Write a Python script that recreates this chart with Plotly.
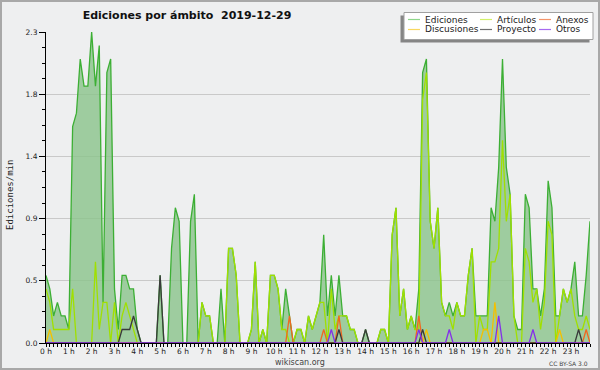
import plotly.graph_objects as go

# ---------------- data (10-minute bins, edits per minute) ----------------
bin_minutes = 10
n_bins = 144

ediciones = [
    0.5, 0.4, 0.2, 0.3, 0.2, 0.2,   # 0 h
    0.1, 1.6, 1.7, 2.1, 1.9, 1.9,   # 1 h
    2.3, 1.9, 2.2, 0.3, 2.0, 2.1,   # 2 h
    0.4, 0.1, 0.5, 0.5, 0.4, 0.4,   # 3 h
    0.1, 0.0, 0.0, 0.0, 0.0, 0.0,   # 4 h
    0.5, 0.0, 0.0, 0.7, 1.0, 0.9,   # 5 h
    0.0, 0.0, 0.9, 1.1, 0.0, 0.3,   # 6 h
    0.2, 0.2, 0.0, 0.0, 0.4, 0.0,   # 7 h
    0.7, 0.7, 0.5, 0.0, 0.0, 0.0,   # 8 h
    0.1, 0.6, 0.0, 0.1, 0.0, 0.5,   # 9 h
    0.5, 0.4, 0.1, 0.4, 0.2, 0.0,   # 10 h
    0.1, 0.1, 0.0, 0.2, 0.1, 0.2,   # 11 h
    0.3, 0.8, 0.2, 0.5, 0.2, 0.5,   # 12 h
    0.2, 0.2, 0.1, 0.1, 0.0, 0.0,   # 13 h
    0.1, 0.0, 0.0, 0.0, 0.1, 0.1,   # 14 h
    0.0, 0.8, 1.0, 0.2, 0.4, 0.1,   # 15 h
    0.2, 0.1, 0.4, 2.0, 2.1, 0.9,   # 16 h
    0.7, 1.0, 0.3, 0.2, 0.3, 0.2,   # 17 h
    0.3, 0.2, 0.2, 0.5, 0.7, 0.2,   # 18 h
    0.2, 0.2, 0.2, 1.0, 0.9, 1.3,   # 19 h
    2.1, 1.3, 1.1, 0.2, 0.1, 0.1,   # 20 h
    1.1, 1.0, 0.4, 0.4, 0.2, 0.4,   # 21 h
    1.2, 1.0, 0.2, 0.2, 0.4, 0.3,   # 22 h
    0.4, 0.6, 0.2, 0.2, 0.5, 0.9,   # 23 h
]

articulos = [
    0.4, 0.3, 0.1, 0.1, 0.1, 0.1,
    0.1, 0.4, 0.0, 0.0, 0.0, 0.0,
    0.0, 0.6, 0.1, 0.3, 0.3, 0.0,
    0.3, 0.0, 0.2, 0.3, 0.2, 0.1,
    0.0, 0.0, 0.0, 0.0, 0.0, 0.0,
    0.0, 0.0, 0.0, 0.0, 0.0, 0.0,
    0.0, 0.0, 0.0, 0.0, 0.0, 0.3,
    0.2, 0.2, 0.0, 0.0, 0.0, 0.0,
    0.7, 0.7, 0.5, 0.0, 0.0, 0.0,
    0.1, 0.6, 0.0, 0.1, 0.0, 0.5,
    0.5, 0.4, 0.1, 0.1, 0.0, 0.0,
    0.1, 0.1, 0.0, 0.2, 0.1, 0.2,
    0.3, 0.3, 0.0, 0.4, 0.1, 0.2,
    0.2, 0.2, 0.1, 0.1, 0.0, 0.0,
    0.0, 0.0, 0.0, 0.0, 0.1, 0.1,
    0.0, 0.8, 1.0, 0.2, 0.4, 0.1,
    0.2, 0.1, 0.1, 1.8, 2.0, 0.9,
    0.7, 1.0, 0.3, 0.2, 0.2, 0.1,
    0.3, 0.2, 0.2, 0.5, 0.7, 0.0,
    0.2, 0.1, 0.1, 0.6, 0.6, 0.7,
    1.5, 0.9, 1.1, 0.2, 0.0, 0.0,
    0.7, 0.6, 0.3, 0.4, 0.1, 0.3,
    0.9, 0.8, 0.0, 0.2, 0.4, 0.3,
    0.4, 0.2, 0.1, 0.1, 0.2, 0.1,
]

# sparse series: {bin index: edits per minute}
discusiones_bins = {1: 0.1, 100: 0.1, 115: 0.1, 116: 0.1, 118: 0.3, 135: 0.1}
anexos_bins = {64: 0.2, 73: 0.1, 77: 0.2, 98: 0.2, 142: 0.1}
proyecto_bins = {20: 0.1, 21: 0.1, 22: 0.1, 23: 0.2, 24: 0.1, 30: 0.5,
                 77: 0.1, 84: 0.1, 99: 0.1, 140: 0.1}
otros_bins = {75: 0.1, 98: 0.1, 106: 0.1, 119: 0.2, 128: 0.1}

y_tick_values = [0, 0.46, 0.92, 1.38, 1.84, 2.3]
y_tick_labels = ["0.0", "0.5", "0.9", "1.4", "1.8", "2.3"]
x_tick_hours = list(range(24))
x_tick_labels = [f"{h} h" for h in x_tick_hours]

title_text = "Ediciones por ámbito\u00a0\u00a02019-12-29"
y_title = "Ediciones/min"
legend_rows = [["Ediciones", "Artículos", "Anexos"],
               ["Discusiones", "Proyecto", "Otros"]]


def expand(sparse):
    return [sparse.get(i, 0.0) for i in range(n_bins)]


hours = [i * bin_minutes / 60 for i in range(n_bins)]

series = {
    "Ediciones": ediciones,
    "Artículos": articulos,
    "Discusiones": expand(discusiones_bins),
    "Anexos": expand(anexos_bins),
    "Proyecto": expand(proyecto_bins),
    "Otros": expand(otros_bins),
}

colors = {
    "Ediciones": "#3caf34",
    "Artículos": "#a0e000",
    "Discusiones": "#f4c000",
    "Anexos": "#f06820",
    "Proyecto": "#3a3a3a",
    "Otros": "#8430e8",
}
legend_colors = {
    "Ediciones": "#8fd68a",
    "Artículos": "#d2f06a",
    "Discusiones": "#f8d860",
    "Anexos": "#f4946a",
    "Proyecto": "#707070",
    "Otros": "#a76af0",
}

# ---------------- layout geometry ----------------
W, H = 600, 370
ML, MR, MT, MB = 46, 10, 32, 27
PW, PH = W - ML - MR, H - MT - MB
BG = "#eeeff0"


def px(x):
    return (x - ML) / PW


def py(y):
    return 1 - (y - MT) / PH


fig = go.Figure()

draw_order = ["Ediciones", "Artículos", "Discusiones", "Anexos", "Proyecto", "Otros"]
for name in draw_order:
    kw = {}
    if name == "Ediciones":
        kw = dict(fill="tozeroy", fillcolor="rgba(140,196,140,0.82)")
    fig.add_trace(go.Scatter(
        x=hours, y=series[name], name=name, mode="lines",
        line=dict(color=colors[name], width=1.3),
        showlegend=False, hoverinfo="skip", **kw))

shapes = []
annotations = []

# outer border
shapes.append(dict(type="rect", xref="paper", yref="paper",
                   x0=px(1), x1=px(W - 1), y0=py(1), y1=py(H - 1),
                   line=dict(color="#a8a8a8", width=2), layer="above"))

# legend box with shadow
lx0, lx1, ly0, ly1 = 404, 593, 12.5, 39.5
shapes.append(dict(type="rect", xref="paper", yref="paper",
                   x0=px(lx0 - 3.5), x1=px(lx1 - 3.5), y0=py(ly0 + 3), y1=py(ly1 + 3),
                   fillcolor="#858585", line=dict(width=0), layer="above"))
shapes.append(dict(type="rect", xref="paper", yref="paper",
                   x0=px(lx0), x1=px(lx1), y0=py(ly0), y1=py(ly1),
                   fillcolor="white", line=dict(color="#a0a0a0", width=1), layer="above"))
col_x = [408, 480, 539]
row_y = [19.5, 29.5]
for r, row in enumerate(legend_rows):
    for c, name in enumerate(row):
        shapes.append(dict(type="line", xref="paper", yref="paper",
                           x0=px(col_x[c]), x1=px(col_x[c] + 12),
                           y0=py(row_y[r]), y1=py(row_y[r]),
                           line=dict(color=legend_colors[name], width=1.2), layer="above"))
        annotations.append(dict(text=name, xref="paper", yref="paper",
                                x=px(col_x[c] + 15), y=py(row_y[r]),
                                xanchor="left", yanchor="middle", showarrow=False,
                                font=dict(family="DejaVu Sans", size=9, color="#222")))

# y-axis title
annotations.append(dict(text=y_title, xref="paper", yref="paper",
                        x=px(10), y=py(195), textangle=-90, showarrow=False,
                        xanchor="center", yanchor="middle",
                        font=dict(family="DejaVu Sans Mono", size=9, color="#222")))
# footer texts
annotations.append(dict(text="wikiscan.org", xref="paper", yref="paper",
                        x=px(300), y=py(362), showarrow=False,
                        xanchor="center", yanchor="middle",
                        font=dict(family="DejaVu Sans", size=8, color="#444")))
annotations.append(dict(text="CC BY-SA 3.0", xref="paper", yref="paper",
                        x=px(590), y=py(363), showarrow=False,
                        xanchor="right", yanchor="middle",
                        font=dict(family="DejaVu Sans", size=6, color="#444")))

fig.update_layout(
    width=W, height=H,
    margin=dict(l=ML, r=MR, t=MT, b=MB, pad=0),
    paper_bgcolor=BG, plot_bgcolor=BG,
    showlegend=False,
    hovermode=False,
    title=dict(text=title_text, xref="container", yref="container",
               x=187 / W, xanchor="center", y=1 - 15 / H, yanchor="middle",
               font=dict(family="DejaVu Sans", size=11, weight="bold", color="#111")),
    shapes=shapes, annotations=annotations,
    xaxis=dict(range=[0, hours[-1]], tickmode="array", tickvals=x_tick_hours,
               ticktext=x_tick_labels, ticks="outside", ticklen=3, tickwidth=1,
               tickcolor="black", showline=True, linecolor="black", linewidth=1,
               showgrid=False, zeroline=False, ticklabelstandoff=-2,
               tickfont=dict(family="DejaVu Sans", size=7.5, color="#222"),
               minor=dict(dtick=bin_minutes / 60, tick0=0, ticks="outside",
                          ticklen=3, tickcolor="black", showgrid=False)),
    yaxis=dict(range=[0, 2.3], tickmode="array", tickvals=y_tick_values,
               ticktext=y_tick_labels, ticks="outside", ticklen=6, tickwidth=1,
               tickcolor="black", showline=True, linecolor="black", linewidth=1,
               showgrid=True, gridcolor="#c9c9c9", gridwidth=1, zeroline=False,
               tickfont=dict(family="DejaVu Sans", size=7.5, color="#222"),
               minor=dict(dtick=0.115, tick0=0, ticks="outside", ticklen=3,
                          tickcolor="black", showgrid=False)),
)

fig.write_html(
    "out.html",
    config={"displayModeBar": False, "staticPlot": True},
    post_script="document.body.style.margin='0';"
                "document.body.style.background='" + BG + "';",
)
